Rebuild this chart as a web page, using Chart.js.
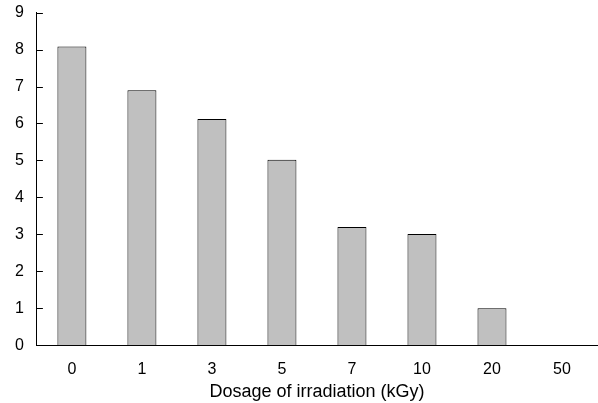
<!DOCTYPE html>
<html>
<head>
<meta charset="utf-8">
<script src="https://cdn.jsdelivr.net/npm/chart.js@4/dist/chart.umd.min.js"></script>
<style>
  html, body { margin: 0; padding: 0; background: #fff; overflow: hidden; }
  #wrap { width: 598px; height: 413px; margin-top: -10px; }
</style>
</head>
<body>
<div id="wrap"><canvas id="doseChart"></canvas></div>
<script>
const doseLabels = ["0", "1", "3", "5", "7", "10", "20", "50"];
const doseValues = [8.08, 6.9, 6.12, 5.02, 3.2, 3.01, 1.0, 0];
const yTicks = [0, 1, 2, 3, 4, 5, 6, 7, 8, 9];

// short tick marks pointing into the plot on the y axis
const innerTicks = {
  id: "innerTicks",
  afterDraw(chart) {
    const ctx = chart.ctx;
    const y = chart.scales.y;
    ctx.save();
    ctx.strokeStyle = "#000";
    ctx.lineWidth = 1;
    y.ticks.forEach(function(t) {
      const py = Math.round(y.getPixelForValue(t.value)) + 0.5;
      ctx.beginPath();
      ctx.moveTo(y.right, py);
      ctx.lineTo(y.right + 6, py);
      ctx.stroke();
    });
    ctx.restore();
  }
};

let context = document.getElementById("doseChart").getContext("2d");
let myChart = new Chart(context, {
  type: "bar",
  data: {
    labels: doseLabels,
    datasets: [
      {
        data: doseValues,
        backgroundColor: "#c0c0c0",
        borderColor: "#000",
        borderWidth: 1,
        categoryPercentage: 1,
        barPercentage: 0.414
      }
    ]
  },
  options: {
    responsive: true,
    maintainAspectRatio: false,
    animation: false,
    layout: { padding: { top: 0, right: 1, left: 2, bottom: 0 } },
    plugins: { legend: { display: false }, tooltip: { enabled: false } },
    scales: {
      x: {
        grid: { display: false, drawTicks: false },
        border: { display: true, color: "#000", width: 1 },
        ticks: { color: "#000", font: { family: "Liberation Sans", size: 16 }, padding: 15 },
        title: {
          display: true,
          text: "Dosage of irradiation (kGy)",
          color: "#000",
          font: { family: "Liberation Sans", size: 18 },
          padding: { top: -13, bottom: 0 }
        }
      },
      y: {
        min: 0,
        max: 9,
        afterBuildTicks: function(scale) {
          scale.ticks = yTicks.map(function(v) { return { value: v }; });
        },
        grid: { display: false, drawTicks: false },
        border: { display: true, color: "#000", width: 1 },
        ticks: { color: "#000", font: { family: "Liberation Sans", size: 16 }, padding: 13 }
      }
    }
  },
  plugins: [innerTicks]
});
</script>
</body>
</html>
